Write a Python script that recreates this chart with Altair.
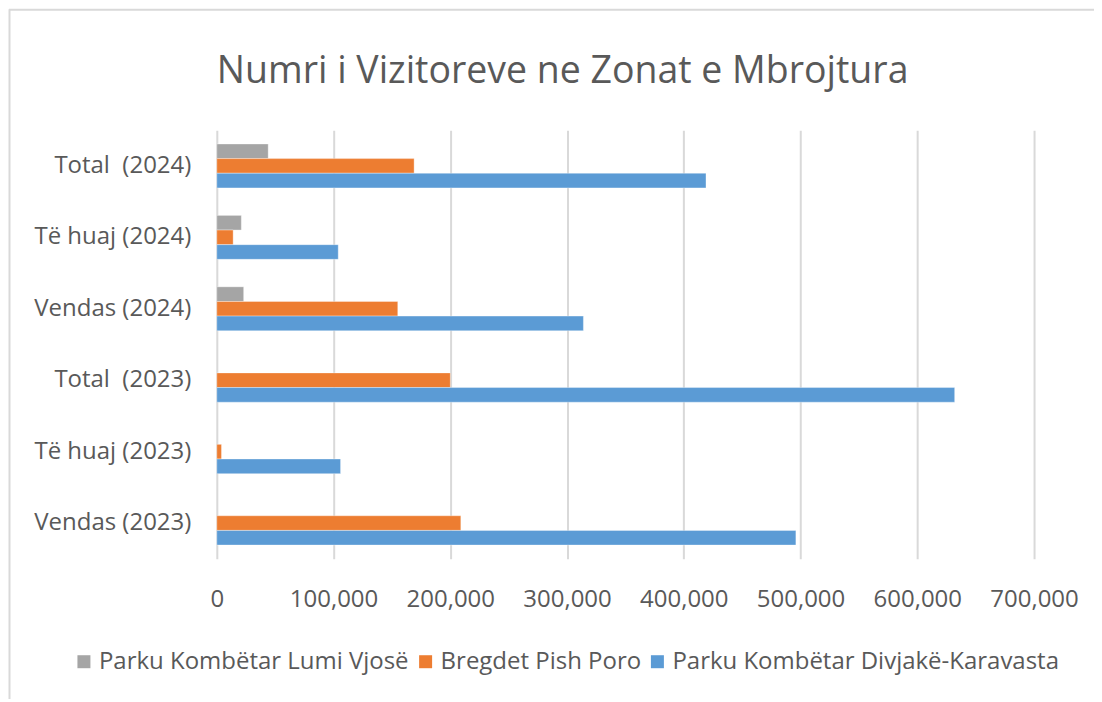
import altair as alt
import pandas as pd

categories = ["Total\u00a0 (2024)", "Të huaj (2024)", "Vendas (2024)",
              "Total\u00a0 (2023)", "Të huaj (2023)", "Vendas (2023)"]
series = ["Parku Kombëtar Lumi Vjosë", "Bregdet Pish Poro", "Parku Kombëtar Divjakë-Karavasta"]
vjose = [44000, 21000, 23000, None, None, None]
pish_poro = [169000, 14000, 155000, 200000, 4000, 209000]
divjake = [419000, 104000, 314000, 632000, 106000, 496000]
colors = ["#A5A5A5", "#ED7D31", "#5B9BD5"]
x_ticks = [0, 100000, 200000, 300000, 400000, 500000, 600000, 700000]

rows = []
for s, vals in zip(series, [vjose, pish_poro, divjake]):
    for c, v in zip(categories, vals):
        if v is not None:
            rows.append({"cat": c, "series": s, "value": v})
df = pd.DataFrame(rows)

FONT = "Open Sans"
TXT = "#595959"

bars = alt.Chart(df).mark_bar(stroke="#ffffff", strokeOpacity=0.35, strokeWidth=1).encode(
    y=alt.Y("cat:N", sort=categories, title=None,
            scale=alt.Scale(paddingInner=0.385, paddingOuter=0.1925),
            axis=alt.Axis(labelFontSize=24, labelColor=TXT, labelFont=FONT,
                          labelPadding=26, ticks=False, domain=False, grid=False,
                          labelLimit=400)),
    yOffset=alt.YOffset("series:N", sort=series, scale=alt.Scale(domain=series, paddingInner=0)),
    x=alt.X("value:Q", title=None,
            scale=alt.Scale(domain=[0, 700000], nice=False),
            axis=alt.Axis(values=x_ticks, format=",d", labelFontSize=24, labelColor=TXT,
                          labelFont=FONT, labelPadding=29, ticks=False, domain=False,
                          labelOverlap=False, labelFlush=False,
                          grid=True, gridColor="#d9d9d9", gridWidth=2)),
    color=alt.Color("series:N", sort=series,
                    scale=alt.Scale(domain=series, range=colors),
                    legend=alt.Legend(title=None, orient="none", direction="horizontal",
                                      legendX=-145, legendY=520,
                                      symbolType="square", symbolSize=169,
                                      symbolStrokeWidth=0, labelFontSize=24,
                                      labelColor=TXT, labelFont=FONT, labelLimit=600,
                                      columnPadding=4, labelOffset=3, padding=0)),
)

border_df = pd.DataFrame({"a": [0]})
top_line = alt.Chart(border_df).mark_rule(color="#d9d9d9", strokeWidth=2).encode(
    x=alt.value(-208), x2=alt.value(885), y=alt.value(-120.5))
left_line = alt.Chart(border_df).mark_rule(color="#d9d9d9", strokeWidth=2).encode(
    x=alt.value(-207.5), y=alt.value(-121), y2=alt.value(572))

chart = alt.layer(bars, top_line, left_line).properties(
    width=818, height=429,
    background="white",
    padding={"left": 209, "top": 122, "right": 60, "bottom": 140},
    autosize=alt.AutoSizeParams(type="none"),
    title=alt.TitleParams("Numri i Vizitoreve ne Zonat e Mbrojtura", anchor="start",
                          frame="group", fontSize=37.5, font=FONT, color=TXT,
                          fontWeight="normal", baseline="alphabetic", offset=0, dy=112),
).configure_view(stroke="transparent", strokeWidth=0)

chart.save("out.html", embed_options={"renderer": "svg", "actions": False})
